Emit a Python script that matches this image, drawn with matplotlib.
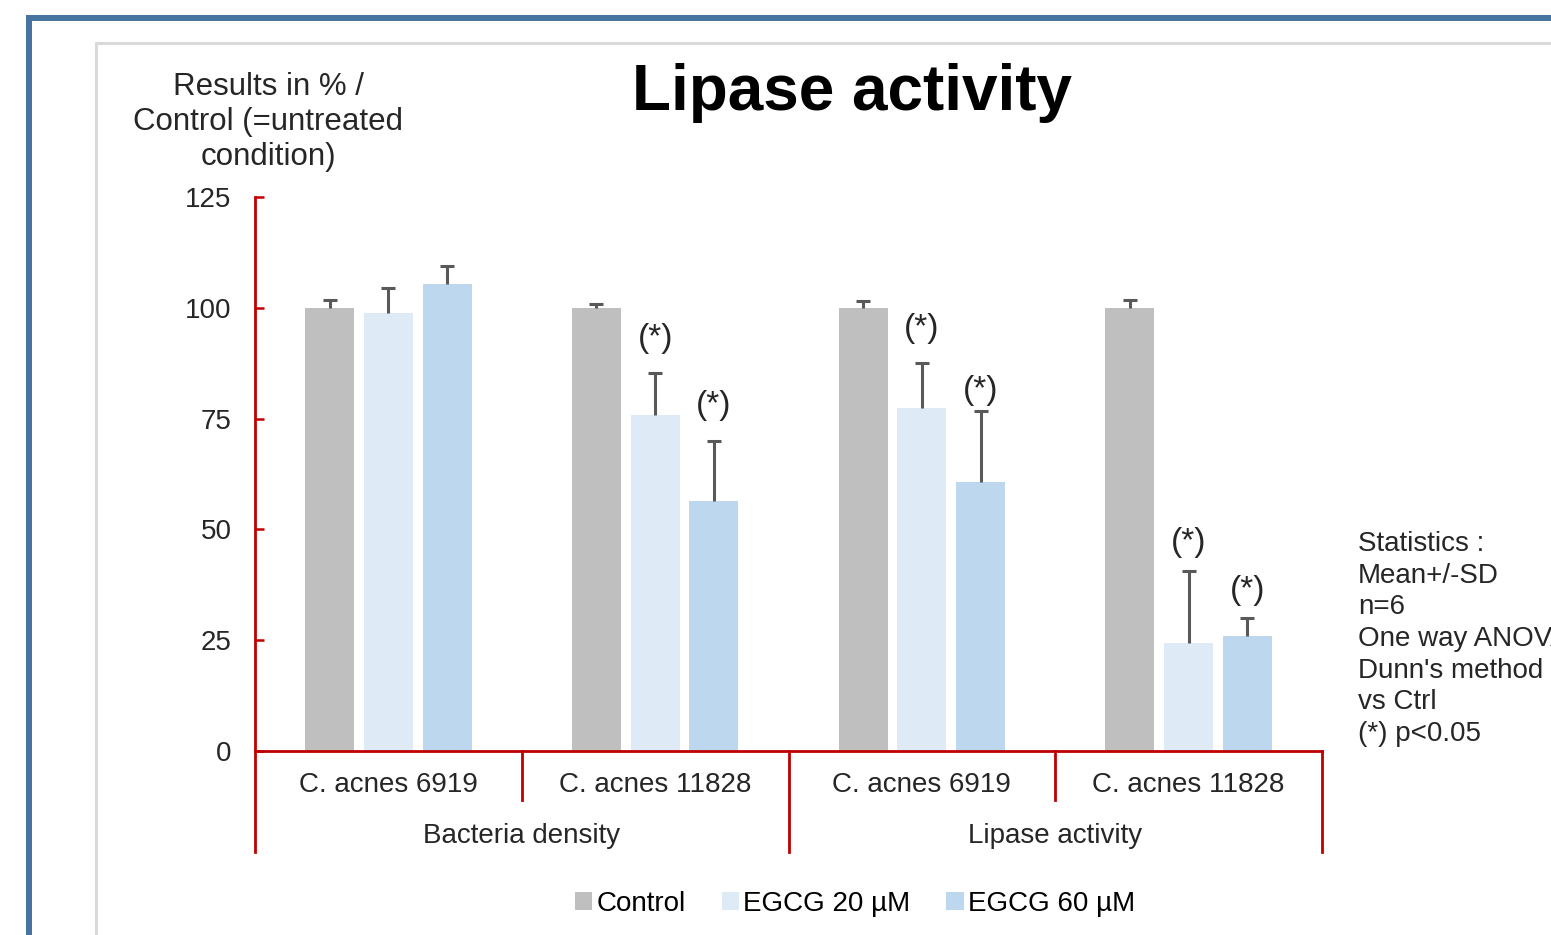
import numpy as np
import matplotlib
matplotlib.use("Agg")
import matplotlib.pyplot as plt
from matplotlib.lines import Line2D

plt.rcParams['font.family'] = ['Liberation Sans', 'DejaVu Sans']

# values (% of untreated control)
groups = ['Bacteria density', 'Lipase activity']
strains = ['C. acnes 6919', 'C. acnes 11828', 'C. acnes 6919', 'C. acnes 11828']
series_names = ['Control', 'EGCG 20 µM', 'EGCG 60 µM']
control = [100, 100, 100, 100]
control_sd = [1.8, 0.8, 1.6, 1.8]
egcg20 = [98.9, 75.7, 77.3, 24.3]
egcg20_sd = [5.5, 9.7, 10.2, 16.4]
egcg60 = [105.3, 56.5, 60.8, 26.0]
egcg60_sd = [4.2, 13.5, 15.9, 4.1]
sig20 = [False, True, True, True]
sig60 = [False, True, True, True]
stats_lines = ['Statistics :', 'Mean+/-SD', 'n=6', 'One way ANOVA',
               "Dunn's method", 'vs Ctrl', '(*) p<0.05']

W, H = 1551, 935
colors = ['#BFBFBF', '#DEEBF7', '#BDD7EE']
red = '#C00000'
err_col = '#595959'


def fx(px):
    return px / W


def fy(py):
    return 1 - py / H


fig = plt.figure(figsize=(W / 100, H / 100), dpi=100)

# outer blue frame and grey chart-area border
fig.add_artist(Line2D([fx(26), 1], [fy(18), fy(18)], color='#46739F', lw=4.3,
                      solid_capstyle='butt'))
fig.add_artist(Line2D([fx(29), fx(29)], [fy(15), 0], color='#46739F', lw=4.3,
                      solid_capstyle='butt'))
fig.add_artist(Line2D([fx(95), 1], [fy(42.5), fy(42.5)], color='#D9D9D9', lw=2.2,
                      solid_capstyle='butt'))
fig.add_artist(Line2D([fx(96), fx(96)], [fy(41.5), 0], color='#D9D9D9', lw=2.2,
                      solid_capstyle='butt'))

ax = fig.add_axes([fx(255), fy(751), fx(1322) - fx(255), (751 - 197) / H])

series = [control, egcg20, egcg60]
sds = [control_sd, egcg20_sd, egcg60_sd]
offsets = [-0.22, 0.0, 0.22]
base = np.arange(len(strains)) + 0.5
handles = []
for vals, sd, off, col, name in zip(series, sds, offsets, colors, series_names):
    xs = base + off
    b = ax.bar(xs, vals, width=0.184, color=col, label=name, zorder=1)
    handles.append(b)
    tops = np.array(vals) + np.array(sd)
    # upper-only error bar with a single cap (T shape)
    ax.vlines(xs, vals, tops, color=err_col, lw=2.2, zorder=3)
    ax.plot(xs, tops, ls='none', marker='_', markersize=9.5, mew=2.2,
            color=err_col, zorder=3)

# significance marks, gap above the error bar in points
gap20 = [0, 13, 14, 9]
gap60 = [0, 14, 4, 8]
for i in range(len(strains)):
    for sig, vals, sd, off, gap in ((sig20, egcg20, egcg20_sd, 0.0, gap20),
                                    (sig60, egcg60, egcg60_sd, 0.22, gap60)):
        if sig[i]:
            ax.annotate('(*)', (base[i] + off, vals[i] + sd[i]),
                        xytext=(0, gap[i]), textcoords='offset points',
                        ha='center', va='bottom', fontsize=24, color='#262626')

ax.set_xlim(0, 4)
ax.set_ylim(0, 125)
ax.set_yticks([0, 25, 50, 75, 100, 125])
ax.tick_params(axis='y', direction='in', length=6.5, width=1.8, color=red,
               labelsize=20, pad=17, labelcolor='#262626')
ax.set_xticks([])
for s in ('top', 'right'):
    ax.spines[s].set_visible(False)
for s in ('left', 'bottom'):
    ax.spines[s].set_color(red)
    ax.spines[s].set_linewidth(2)

# multi-level category axis
tr = ax.get_xaxis_transform()
for xv, depth in zip([0, 1, 2, 3, 4], [-0.1823, -0.0884, -0.1823, -0.0884, -0.1823]):
    ax.plot([xv, xv], [0, depth], color=red, lw=2, transform=tr, clip_on=False)
for i, name in enumerate(strains):
    ax.text(base[i], -0.0614, name, transform=tr, ha='center', va='center',
            fontsize=20, color='#262626')
for j, name in enumerate(groups):
    ax.text(2 * j + 1, -0.1534, name, transform=tr, ha='center', va='center',
            fontsize=20, color='#262626')

fig.text(fx(852), fy(110), 'Lipase activity', ha='center', va='baseline',
         fontsize=46, fontweight='bold', color='black')
fig.text(fx(268), fy(122), 'Results in % /\nControl (=untreated\ncondition)',
         ha='center', va='center', fontsize=22.5, linespacing=1.2, color='#262626')
fig.text(fx(1358), fy(639), '\n'.join(stats_lines), ha='left', va='center',
         fontsize=20, linespacing=1.28, color='#262626')

fig.legend(handles=handles, loc='center', bbox_to_anchor=(fx(855), fy(904)),
           ncol=3, frameon=False, fontsize=20, handlelength=0.62, handleheight=0.62,
           handletextpad=0.15, columnspacing=1.3, borderaxespad=0)

fig.savefig('out.png', dpi=100)
